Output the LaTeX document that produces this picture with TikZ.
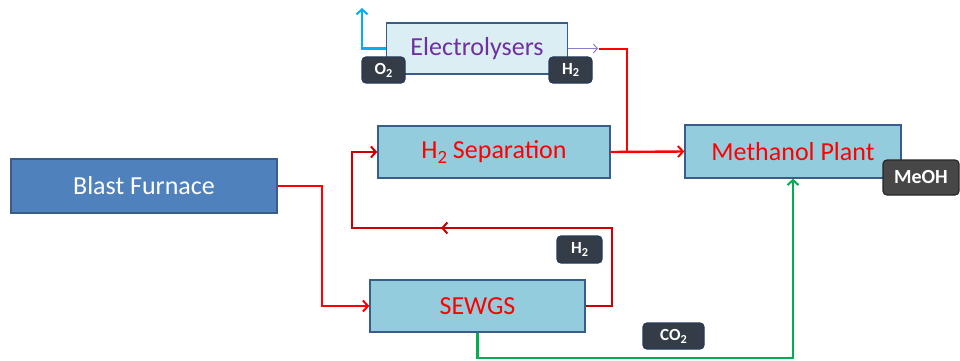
\documentclass[tikz,border=0pt]{standalone}
\usepackage{fontspec}
\setmainfont{Carlito}
\usetikzlibrary{arrows.meta}
\definecolor{bfblue}{HTML}{4F81BD}
\definecolor{bdblue}{HTML}{385D8A}
\definecolor{procfill}{HTML}{93CDDD}
\definecolor{elfill}{HTML}{DBEEF4}
\definecolor{purp}{HTML}{7030A0}
\definecolor{cyanar}{HTML}{00B0F0}
\definecolor{grn}{HTML}{00B050}
\definecolor{dred}{HTML}{CC0000}
\definecolor{brred}{HTML}{FF0000}
\definecolor{tagfill}{HTML}{343C48}
\definecolor{tagdraw}{HTML}{243A58}
\definecolor{thinarr}{HTML}{8A7FC8}
\newcommand{\subx}[1]{\raisebox{-0.35ex}{\fontsize{0.72em}{1em}\selectfont #1}}
\tikzset{
  procbox/.style={draw=bdblue, line width=1.4pt, fill=procfill, inner sep=0pt,
    font=\fontsize{26}{30}\selectfont, text=brred},
  tagbox/.style={draw=tagdraw, line width=1.2pt, fill=tagfill, rounded corners=4pt,
    inner sep=0pt, text=white, font=\bfseries\fontsize{17}{19}\selectfont},
  redline/.style={draw=brred, line width=2.4pt},
  dredline/.style={draw=dred, line width=2.4pt},
  barb/.style={-{Straight Barb[length=5pt,width=11pt,line width=2pt]}}
}
\begin{document}
\begin{tikzpicture}[x=1pt,y=-1pt]
\useasboundingbox (0,0) rectangle (960,361);
% boxes
\node[draw=bdblue, line width=1.4pt, fill=bfblue, inner sep=0pt, text=white,
  font=\fontsize{26}{30}\selectfont, minimum width=266pt, minimum height=54pt]
  (bf) at (144,186) {Blast Furnace};
\node[procbox, fill=elfill, text=purp, minimum width=181pt, minimum height=51pt]
  (el) at (477,48.5) {Electrolysers};
\node[procbox, minimum width=232pt, minimum height=52pt]
  (hs) at (494,152) {H\subx{2} Separation};
\node[procbox, minimum width=215pt, minimum height=52pt]
  (sw) at (477.5,306) {SEWGS};
\node[procbox, minimum width=216pt, minimum height=53pt]
  (mp) at (793,151.5) {Methanol Plant};
% coordinates
\coordinate (o2up) at (362,8);
\coordinate (h2tip) at (598,48.5);
\coordinate (h2r) at (599,49);
\coordinate (jn) at (627,152);
\coordinate (bfx) at (322,186);
\coordinate (lp1) at (612,228);
\coordinate (lpm) at (441,228);
\coordinate (lp2) at (352,228);
\coordinate (gc) at (793,358);
% connectors
\draw[draw=cyanar, line width=2.4pt, barb] (el.west) -| (o2up);
\draw[draw=thinarr, line width=1pt, -{Straight Barb[length=4pt,width=9pt,line width=1pt]}] (el.east) -- (h2tip);
\draw[redline] (h2r) -| (jn);
\draw[redline, barb] (hs.east) -- (mp.west);
\draw[redline, barb] (bf.east) -- (bfx) |- (sw.west);
\draw[dredline, barb] (sw.east) -| (lp1) -- (lp2) |- (hs.west);
\draw[dredline, barb] (lp1) -- (lpm);
\draw[draw=grn, line width=2.4pt, barb] (sw.south) |- (gc) -- (mp.south);
% tags
\node[tagbox, minimum width=43pt, minimum height=26pt] (to2) at (383.5,70) {O\subx{2}};
\node[tagbox, minimum width=43pt, minimum height=26pt] (th2a) at (570.5,70) {H\subx{2}};
\node[tagbox, minimum width=45pt, minimum height=27pt] (th2b) at (579.5,249.5) {H\subx{2}};
\node[tagbox, minimum width=61pt, minimum height=26pt] (tco2) at (673.5,336) {CO\subx{2}};
\node[tagbox, draw=black!85, fill=black!72, minimum width=76pt, minimum height=35pt,
  font=\bfseries\fontsize{20}{22}\selectfont] (tme) at (921,177.5) {MeOH};
\end{tikzpicture}
\end{document}
